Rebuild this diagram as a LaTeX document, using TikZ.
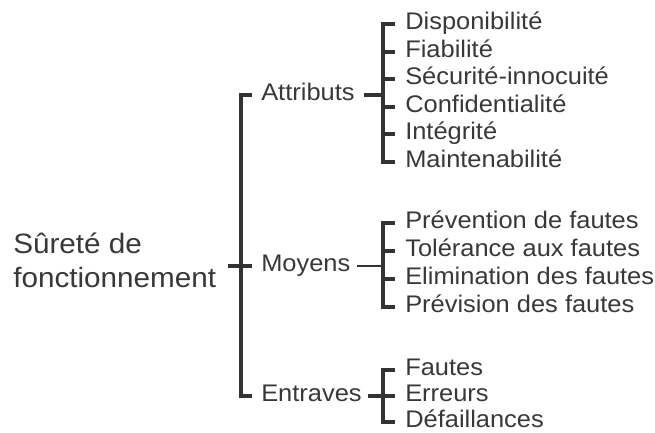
\documentclass[tikz,border=0pt]{standalone}
\usepackage{fontspec}
\setmainfont{Liberation Sans}[FakeStretch=1.06]
\definecolor{trait}{HTML}{333333}
\definecolor{texte}{HTML}{383838}
\tikzset{
  item/.style = {anchor = west, inner sep = 0, text = texte, text height = 13pt, text depth = 4.5pt, font = \fontsize{18}{21}\selectfont},
  accolade/.style = {draw = trait, line width = 2.5pt},
  sousaccolade/.style = {draw = trait, line width = 3pt},
  fin/.style = {draw = trait, line width = 1.1pt}
}
\begin{document}
\begin{tikzpicture}[x = 0.75pt, y = -0.75pt]
\useasboundingbox (0,0) rectangle (655,432);
\node[anchor = north west, inner sep = 0, text = texte, align = left, font = \fontsize{21}{25}\selectfont](surete)at(13,233){Sûreté de\\fonctionnement};
% les trois branches
\node[item](attr)at(261,95){Attributs};
\node[item](moy)at(261,266){Moyens};
\node[item](entr)at(261,396){Entraves};
\draw[accolade]([xshift = -6.75pt]attr.west) -- ++(-11,0) |- ([xshift = -6.75pt]entr.west);
\draw[accolade]([xshift = -24.75pt]moy.west) -- ([xshift = -6.75pt]moy.west);
% attributs
\node[item](dispo)at(405,24){Disponibilité};
\node[item](fiab)at(405,52){Fiabilité};
\node[item](secu)at(405,79){Sécurité-innocuité};
\node[item](conf)at(405,107){Confidentialité};
\node[item](integ)at(405,134){Intégrité};
\node[item](maint)at(405,162){Maintenabilité};
\draw[sousaccolade]([xshift = -7.5pt]dispo.west) -- ++(-12,0) |- ([xshift = -7.5pt]maint.west);
\draw[sousaccolade]([xshift = -7.5pt]fiab.west) -- ++(-12,0);
\draw[sousaccolade]([xshift = -7.5pt]secu.west) -- ++(-12,0);
\draw[sousaccolade]([xshift = -7.5pt]conf.west) -- ++(-12,0);
\draw[sousaccolade]([xshift = -7.5pt]integ.west) -- ++(-12,0);
\draw[accolade]([xshift = 6.75pt]attr.east) -- ([xshift = -16.5pt]dispo.west |- attr.east);
% moyens
\node[item](prevent)at(405,223){Prévention de fautes};
\node[item](toler)at(405,251){Tolérance aux fautes};
\node[item](elim)at(405,279){Elimination des fautes};
\node[item](previs)at(405,307){Prévision des fautes};
\draw[sousaccolade]([xshift = -7.5pt]prevent.west) -- ++(-12,0) |- ([xshift = -7.5pt]previs.west);
\draw[sousaccolade]([xshift = -7.5pt]toler.west) -- ++(-12,0);
\draw[sousaccolade]([xshift = -7.5pt]elim.west) -- ++(-12,0);
\draw[fin]([xshift = 4.5pt]moy.east) -- ([xshift = -16.5pt]prevent.west |- moy.east);
% entraves
\node[item](fautes)at(405,370){Fautes};
\node[item](erreurs)at(405,396){Erreurs};
\node[item](defail)at(405,422){Défaillances};
\draw[sousaccolade]([xshift = -7.5pt]fautes.west) -- ++(-12,0) |- ([xshift = -7.5pt]defail.west);
\draw[sousaccolade]([xshift = -7.5pt]erreurs.west) -- ++(-12,0);
\draw[accolade]([xshift = 4.5pt]entr.east) -- ([xshift = -16.5pt]erreurs.west |- entr.east);
\end{tikzpicture}
\end{document}
